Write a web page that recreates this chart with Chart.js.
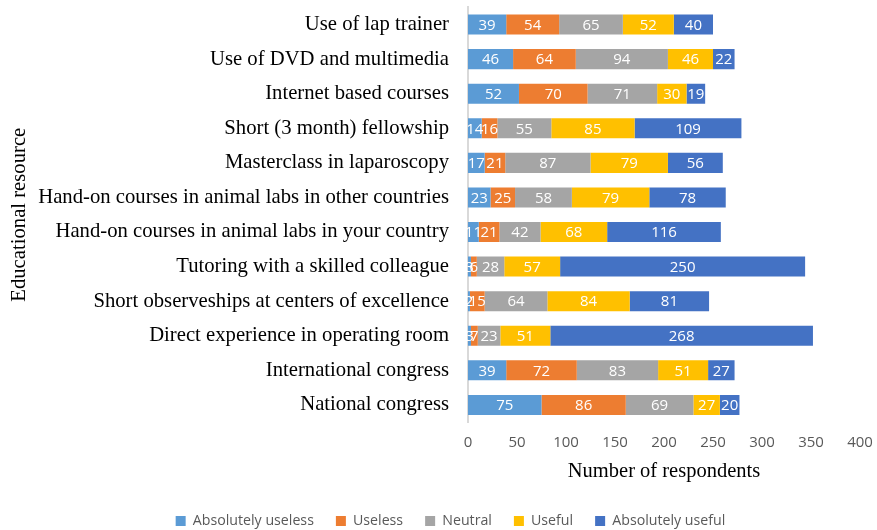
<!DOCTYPE html>
<html lang="en">
<head>
    <meta charset="UTF-8">
    <title>Educational resources</title>
    <script src="https://cdn.jsdelivr.net/npm/chart.js"></script>
    <style>
        body { margin: 0; background: #fff; }
        #wrap { width: 877px; height: 530px; }
    </style>
</head>
<body>
    <div id="wrap"><canvas id="resourceChart" width="877" height="530"></canvas></div>

    <script>
        const resources = [
            'Use of lap trainer',
            'Use of DVD and multimedia',
            'Internet based courses',
            'Short (3 month) fellowship',
            'Masterclass in laparoscopy',
            'Hand-on courses in animal labs in other countries',
            'Hand-on courses in animal labs in your country',
            'Tutoring with a skilled colleague',
            'Short observeships at centers of excellence',
            'Direct experience in operating room',
            'International congress',
            'National congress'
        ];
        const absolutelyUseless = [39, 46, 52, 14, 17, 23, 11, 3, 2, 3, 39, 75];
        const useless           = [54, 64, 70, 16, 21, 25, 21, 6, 15, 7, 72, 86];
        const neutral           = [65, 94, 71, 55, 87, 58, 42, 28, 64, 23, 83, 69];
        const useful            = [52, 46, 30, 85, 79, 79, 68, 57, 84, 51, 51, 27];
        const absolutelyUseful  = [40, 22, 19, 109, 56, 78, 116, 250, 81, 268, 27, 20];
        const xTicks = [0, 50, 100, 150, 200, 250, 300, 350, 400];

        // white numbers in the middle of every segment
        const segmentLabels = {
            id: 'segmentLabels',
            afterDatasetsDraw(chart) {
                const ctx = chart.ctx;
                ctx.save();
                ctx.fillStyle = '#ffffff';
                ctx.font = '15px "Open Sans", sans-serif';
                ctx.textAlign = 'center';
                ctx.textBaseline = 'middle';
                chart.data.datasets.forEach((ds, i) => {
                    chart.getDatasetMeta(i).data.forEach((bar, j) => {
                        const cx = (bar.x + bar.base) / 2;
                        ctx.fillText(ds.data[j], cx, bar.y + 1);
                    });
                });
                ctx.restore();
            }
        };

        // the legend sits a little right of the canvas centre in the original
        const legendNudge = {
            id: 'legendNudge',
            afterLayout(chart) {
                chart.legend.left += 17;
                chart.legend.right += 17;
            }
        };

        const ctx = document.getElementById('resourceChart').getContext('2d');
        new Chart(ctx, {
            type: 'bar',
            data: {
                labels: resources,
                datasets: [
                    { label: 'Absolutely useless', data: absolutelyUseless, backgroundColor: '#5B9BD5' },
                    { label: 'Useless', data: useless, backgroundColor: '#ED7D31' },
                    { label: 'Neutral', data: neutral, backgroundColor: '#A5A5A5' },
                    { label: 'Useful', data: useful, backgroundColor: '#FFC000' },
                    { label: 'Absolutely useful', data: absolutelyUseful, backgroundColor: '#4472C4' }
                ]
            },
            options: {
                indexAxis: 'y',
                responsive: false,
                animation: false,
                layout: { padding: { left: 7, right: 17, top: 0, bottom: -8 } },
                datasets: { bar: { categoryPercentage: 1, barPercentage: 0.58 } },
                plugins: {
                    legend: {
                        position: 'bottom',
                        labels: {
                            boxWidth: 10,
                            boxHeight: 10,
                            padding: 22,
                            color: '#595959',
                            font: { family: '"Open Sans", sans-serif', size: 14.2 }
                        }
                    },
                    tooltip: { enabled: false }
                },
                scales: {
                    x: {
                        stacked: true,
                        min: 0,
                        max: 400,
                        afterBuildTicks: s => { s.ticks = xTicks.map(v => ({ value: v })); },
                        afterFit: s => { s.paddingRight = 13; },
                        grid: { display: false, drawTicks: false },
                        border: { display: false },
                        ticks: {
                            color: '#595959',
                            padding: 12,
                            font: { family: '"Open Sans", sans-serif', size: 15 }
                        },
                        title: {
                            display: true,
                            text: 'Number of respondents',
                            color: '#000',
                            font: { family: '"Liberation Serif", serif', size: 20.5 },
                            padding: { top: -5, bottom: 8 }
                        }
                    },
                    y: {
                        stacked: true,
                        afterFit: s => { s.width = 461; },
                        grid: { display: false, drawTicks: true, tickLength: 19 },
                        border: { display: true, color: '#d9d9d9', width: 2 },
                        ticks: {
                            color: '#000',
                            padding: 0,
                            font: { family: '"Liberation Serif", serif', size: 20.7, lineHeight: 0.7 }
                        },
                        title: {
                            display: true,
                            text: 'Educational resource',
                            color: '#000',
                            font: { family: '"Liberation Serif", serif', size: 20.7 },
                            padding: { top: 0, bottom: 0 }
                        }
                    }
                }
            },
            plugins: [segmentLabels, legendNudge]
        });
    </script>
</body>
</html>
